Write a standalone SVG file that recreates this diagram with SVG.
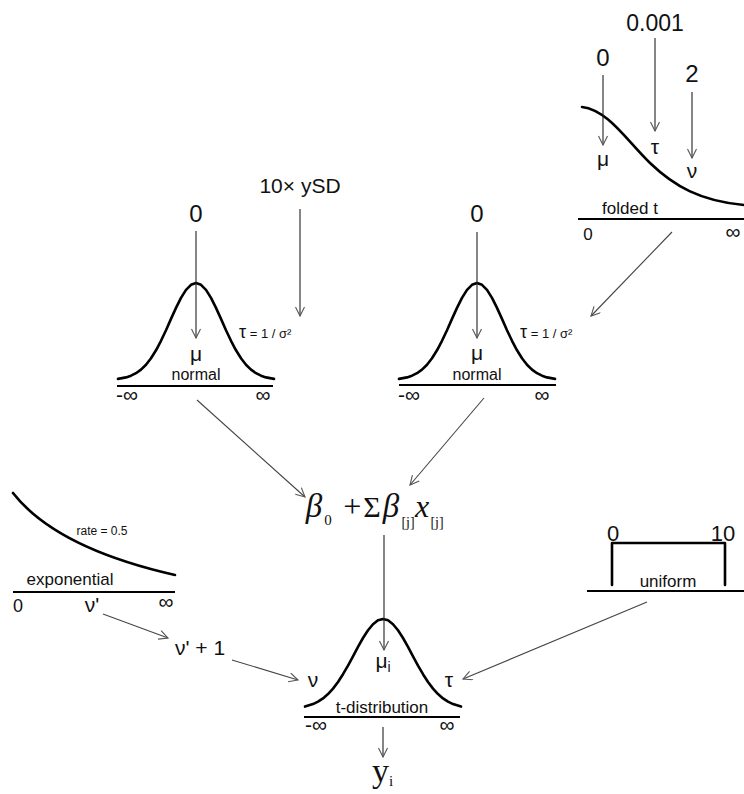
<svg xmlns="http://www.w3.org/2000/svg" width="744" height="794" viewBox="0 0 744 794">
<defs>
<style>
text{font-family:"Liberation Sans",Arial,sans-serif;fill:#111}
.c{text-anchor:middle}
.curve{fill:none;stroke:#000;stroke-width:2.6;stroke-linejoin:round;stroke-linecap:round}
.base{stroke:#000;stroke-width:2.2}
.arr{stroke:#222;stroke-width:1.1;fill:none;marker-end:url(#ah)}
.con{stroke:#444;stroke-width:1.1;fill:none;marker-end:url(#ah)}
.serif{font-family:"Liberation Serif","Times New Roman",serif}
</style>
<marker id="ah" markerWidth="12" markerHeight="12" refX="10" refY="5" orient="auto" markerUnits="userSpaceOnUse">
<path d="M1,0.5 L10,5 L1,9.5" fill="none" stroke="#555" stroke-width="1.1"/>
</marker>
<path id="gauss" d="M-78,-1.1 L-70,-2.6 L-65,-4.3 L-60,-6.8 L-55,-10.4 L-50,-15.3 L-45,-21.7 L-40,-29.7 L-35,-39.2 L-30,-49.8 L-25,-61.1 L-20,-72.1 L-15,-82.1 L-10,-90.1 L-5,-95.2 L0,-97 L5,-95.2 L10,-90.1 L15,-82.1 L20,-72.1 L25,-61.1 L30,-49.8 L35,-39.2 L40,-29.7 L45,-21.7 L50,-15.3 L55,-10.4 L60,-6.8 L65,-4.3 L70,-2.6 L78,-1.1"/>
</defs>
<rect width="744" height="794" fill="#fff"/>

<g id="folded-t">
<text class="c" x="603" y="66" font-size="24">0</text>
<text class="c" x="655" y="31" font-size="23">0.001</text>
<text class="c" x="692" y="82" font-size="24">2</text>
<path class="curve" d="M582,107 C608,110 627,141 650,163 C674,186 700,201 744,205"/>
<line class="base" x1="578" y1="219" x2="744" y2="219"/>
<text class="c" x="603" y="166" font-size="21">μ</text>
<text class="c" x="655" y="154" font-size="21">τ</text>
<text class="c" x="692" y="178" font-size="21">ν</text>
<text class="c" x="630" y="214" font-size="17">folded t</text>
<text class="c" x="588" y="240" font-size="17">0</text>
<text class="c" x="733" y="239" font-size="21">∞</text>
</g>

<g id="normal-1">
<text class="c" x="196" y="222" font-size="24">0</text>
<text class="c" x="300" y="193" font-size="21">10× ySD</text>
<use href="#gauss" class="curve" transform="translate(196,380)"/>
<line class="base" x1="117" y1="386" x2="273" y2="386"/>
<text class="c" x="196" y="361" font-size="21">μ</text>
<text class="c" x="196" y="380" font-size="16">normal</text>
<text x="116" y="402" font-size="21">-∞</text>
<text class="c" x="263" y="402" font-size="21">∞</text>
<text x="239" y="338" font-size="18">τ<tspan font-size="13"> = 1 / σ²</tspan></text>
</g>

<g id="normal-2">
<text class="c" x="477" y="222" font-size="24">0</text>
<use href="#gauss" class="curve" transform="translate(477,380)"/>
<line class="base" x1="399" y1="385" x2="556" y2="385"/>
<text class="c" x="477" y="360" font-size="21">μ</text>
<text class="c" x="477" y="380" font-size="16">normal</text>
<text x="398" y="402" font-size="21">-∞</text>
<text class="c" x="542" y="402" font-size="21">∞</text>
<text x="520" y="338" font-size="18">τ<tspan font-size="13"> = 1 / σ²</tspan></text>
</g>

<g id="linear-predictor">
<text class="c serif" x="314" y="517" font-size="33" font-style="italic">β</text>
<text class="c serif" x="328" y="525" font-size="15">0</text>
<text class="c serif" x="352" y="517" font-size="32" font-style="italic">+</text>
<text class="c serif" x="372" y="517" font-size="30">Σ</text>
<text class="c serif" x="391" y="517" font-size="33" font-style="italic">β</text>
<text class="c serif" x="408" y="527" font-size="14">[j]</text>
<text class="c serif" x="422" y="517" font-size="32" font-style="italic">x</text>
<text class="c serif" x="437" y="527" font-size="14">[j]</text>
</g>

<g id="exponential">
<path class="curve" d="M13,493 Q56,548 175,575"/>
<line class="base" x1="13" y1="592" x2="175" y2="592"/>
<text class="c" x="102" y="535" font-size="12">rate = 0.5</text>
<text class="c" x="70" y="585" font-size="17">exponential</text>
<text class="c" x="18" y="612" font-size="18">0</text>
<text class="c" x="92" y="612" font-size="21">ν'</text>
<text class="c" x="166" y="609" font-size="21">∞</text>
</g>

<g id="nu-plus-one">
<text class="c" x="200" y="655" font-size="21">ν' + 1</text>
</g>

<g id="uniform">
<text class="c" x="613" y="541" font-size="22">0</text>
<text class="c" x="723" y="541" font-size="22">10</text>
<path class="curve" d="M612,585 V543 H725 V585" stroke-linecap="butt"/>
<line class="base" x1="587" y1="591" x2="744" y2="591"/>
<text class="c" x="668" y="587" font-size="17">uniform</text>
</g>

<g id="t-distribution">
<path class="curve" d="M305,706.6 L313,704.1 L318,701.7 L323,698.4 L328,694.1 L333,688.6 L338,682.0 L343,674.2 L348,665.6 L353,656.3 L358,646.9 L363,638.0 L368,630.3 L373,624.2 L378,620.3 L383,619 L388,620.3 L393,624.2 L398,630.3 L403,638.0 L408,646.9 L413,656.3 L418,665.6 L423,674.2 L428,682.0 L433,688.6 L438,694.1 L443,698.4 L448,701.7 L453,704.1 L461,706.6"/>
<line class="base" x1="304" y1="717" x2="460" y2="717"/>
<text x="383" y="668" font-size="21" class="c">μ<tspan font-size="14" dy="4">i</tspan></text>
<text class="c" x="313" y="687" font-size="21">ν</text>
<text class="c" x="449" y="687" font-size="21">τ</text>
<text class="c" x="382" y="713" font-size="17">t-distribution</text>
<text x="305" y="732" font-size="21">-∞</text>
<text class="c" x="447" y="732" font-size="21">∞</text>
</g>

<g id="y-i">
<text class="serif" x="372" y="782" font-size="34">y<tspan font-size="15" dy="4">i</tspan></text>
</g>

<g id="connectors">
<line class="arr" x1="603" y1="75" x2="603" y2="145"/>
<line class="arr" x1="655" y1="38" x2="655" y2="131"/>
<line class="arr" x1="692" y1="92" x2="692" y2="158"/>
<line class="arr" x1="196" y1="231" x2="196" y2="338"/>
<line class="arr" x1="300" y1="209" x2="300" y2="316"/>
<line class="arr" x1="477" y1="232" x2="477" y2="338"/>
<line class="con" x1="672" y1="232" x2="591" y2="316"/>
<line class="con" x1="197" y1="400" x2="305" y2="497"/>
<line class="con" x1="484" y1="398" x2="410" y2="485"/>
<line class="arr" x1="384" y1="535" x2="384" y2="650"/>
<line class="con" x1="103" y1="614" x2="168" y2="638"/>
<line class="con" x1="232" y1="660" x2="298" y2="680"/>
<line class="con" x1="647" y1="602" x2="463" y2="679"/>
<line class="arr" x1="383" y1="727" x2="383" y2="757"/>
</g>
</svg>
